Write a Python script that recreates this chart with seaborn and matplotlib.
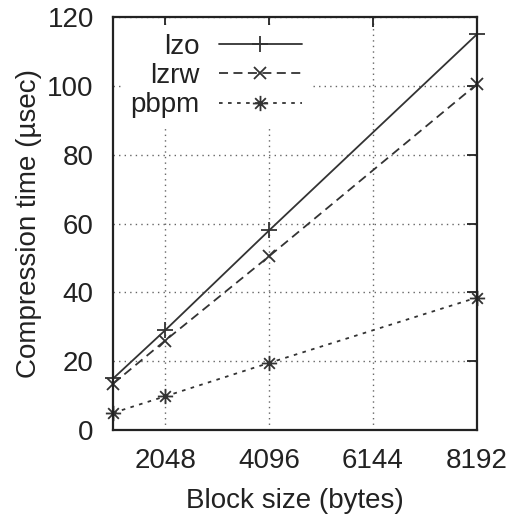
import matplotlib.pyplot as plt
import seaborn as sns
from matplotlib.path import Path

block_sizes = [1024, 2048, 4096, 8192]
lzo = [15, 29, 58, 115]
lzrw = [13.5, 26, 50.5, 100.5]
pbpm = [5, 9.8, 19.5, 38.5]

x_ticks = [2048, 4096, 6144, 8192]
y_ticks = [0, 20, 40, 60, 80, 100, 120]

# gnuplot style asterisk: + and x in one marker
star = Path(
    [(-1, 0), (1, 0), (0, -1), (0, 1),
     (-0.7, -0.7), (0.7, 0.7), (-0.7, 0.7), (0.7, -0.7)],
    [Path.MOVETO, Path.LINETO] * 4,
)

sns.set_theme(style="white")
plt.rcParams['font.family'] = ['Liberation Sans', 'DejaVu Sans']

fig = plt.figure(figsize=(5.1, 5.2), dpi=100)
ax = fig.add_axes([0.222, 0.173, 0.713, 0.794])

line_color = '#333333'
fs = 20
common = dict(ax=ax, color=line_color, linewidth=1.3, markeredgewidth=1.3,
              markeredgecolor=line_color, clip_on=False)
sns.lineplot(x=block_sizes, y=lzo, marker='+', markersize=12, label='lzo', **common)
sns.lineplot(x=block_sizes, y=lzrw, dashes=(5, 3), marker='x', markersize=9,
             label='lzrw', **common)
sns.lineplot(x=block_sizes, y=pbpm, dashes=(2, 3), marker=star, markersize=11,
             label='pbpm', **common)

ax.set_xlim(1024, 8192)
ax.set_ylim(0, 120)
ax.set_xticks(x_ticks)
ax.set_yticks(y_ticks)
ax.grid(True, linestyle=(0, (1, 3)), color='#666666', linewidth=1)
ax.set_axisbelow(True)

for s in ax.spines.values():
    s.set_color('#222222')
    s.set_linewidth(1.6)
ax.tick_params(direction='in', length=7, width=1.3, color='#222222',
               top=True, right=True, labelsize=fs, labelcolor='#222222')
ax.tick_params(axis='x', pad=13)
ax.tick_params(axis='y', pad=14)

ax.set_xlabel('Block size (bytes)', fontsize=fs, color='#222222', labelpad=10)
ax.set_ylabel('Compression time (µsec)', fontsize=fs, color='#222222', labelpad=4)

leg = ax.legend(loc='upper left', markerfirst=False, frameon=True, fontsize=fs,
                handlelength=3.0, handletextpad=0.7, labelspacing=0.12,
                borderaxespad=0.3, borderpad=0.3, alignment='right')
leg.get_frame().set_edgecolor('none')
leg.get_frame().set_facecolor('white')
leg.get_frame().set_alpha(1)
for t in leg.get_texts():
    t.set_ha('right')
    t.set_color('#222222')

fig.savefig('out.png', dpi=100, facecolor='white')
